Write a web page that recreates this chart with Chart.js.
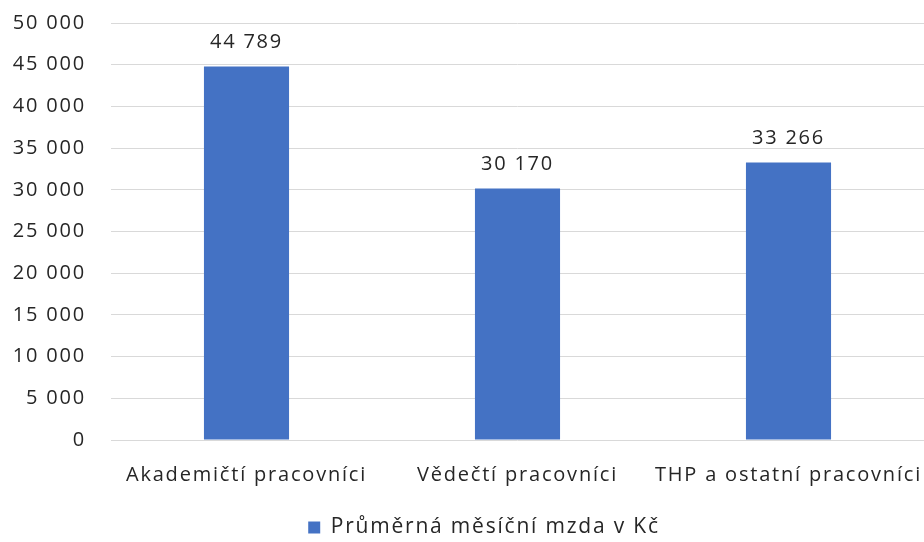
<!DOCTYPE html>
<html>
<head>
<meta charset="utf-8">
<script src="https://cdn.jsdelivr.net/npm/chart.js@4/dist/chart.umd.min.js"></script>
<style>
  html, body { margin: 0; padding: 0; background: #fff; }
  #wrap { width: 924px; height: 542px; }
</style>
</head>
<body>
<div id="wrap"><canvas id="mzdy"></canvas></div>
<script>
const categories = ['Akademičtí pracovníci', 'Vědečtí pracovníci', 'THP a ostatní pracovníci']
const salaries = [44789, 30170, 33266]
const seriesName = 'Průměrná měsíční mzda v Kč'

const fmt = v => String(v).replace(/\B(?=(\d{3})+(?!\d))/g, ' ')
const SPACING = '1.8px'

// the original text is set quite loose, so widen the letters a bit
const spacing = {
    id: 'spacing',
    beforeLayout(chart){ chart.ctx.letterSpacing = SPACING },
    afterLayout(chart){
        // legend sits a little right of centre and lower in the original
        chart.legend.left += 22
        chart.legend.right += 22
        chart.legend.top += 6
        chart.legend.bottom += 6
    },
    beforeDraw(chart){ chart.ctx.letterSpacing = SPACING }
}

// value labels above bars
const barLabels = {
    id: 'barLabels',
    afterDatasetsDraw(chart){
        const ctx = chart.ctx
        const meta = chart.getDatasetMeta(0)
        ctx.save()
        ctx.letterSpacing = SPACING
        ctx.font = '20px "Open Sans"'
        ctx.fillStyle = '#262626'
        ctx.textAlign = 'center'
        ctx.textBaseline = 'bottom'
        meta.data.forEach((bar, i) => {
            ctx.fillText(fmt(salaries[i]), bar.x, bar.y - 14)
        })
        ctx.restore()
    }
}

new Chart(document.querySelector('#mzdy'), {
    type: 'bar',
    data: {
        labels: categories,
        datasets: [{
            label: seriesName,
            data: salaries,
            backgroundColor: '#4472C4',
            categoryPercentage: 1,
            barPercentage: 0.314
        }]
    },
    options: {
        responsive: true,
        maintainAspectRatio: false,
        animation: false,
        layout: { padding: { top: 23, right: 0, bottom: 0, left: 0 } },
        scales: {
            x: {
                afterFit: s => { s.height = 66; s.paddingLeft = 0; s.paddingRight = 0 },
                grid: { display: false, drawTicks: false },
                border: { display: false },
                ticks: { color: '#262626', font: { family: 'Open Sans', size: 20 }, padding: 23, maxRotation: 0 }
            },
            y: {
                min: 0,
                max: 50000,
                afterFit: s => { s.width = 111; s.paddingTop = 0; s.paddingBottom = 0 },
                grid: { color: '#d9d9d9', lineWidth: 1, drawTicks: false },
                border: { display: false },
                ticks: {
                    stepSize: 5000,
                    padding: 25,
                    color: '#262626',
                    font: { family: 'Open Sans', size: 20 },
                    callback: v => fmt(v)
                }
            }
        },
        plugins: {
            tooltip: { enabled: false },
            legend: {
                position: 'bottom',
                labels: {
                    boxWidth: 12,
                    boxHeight: 12,
                    color: '#262626',
                    padding: 5,
                    font: { family: 'Open Sans', size: 21 }
                }
            }
        }
    },
    plugins: [spacing, barLabels]
})
</script>
</body>
</html>
